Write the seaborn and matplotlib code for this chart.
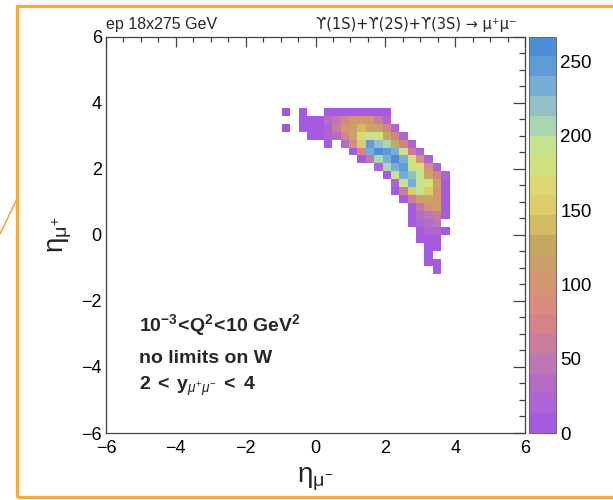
import numpy as np
import pandas as pd
import matplotlib
matplotlib.use("Agg")
import matplotlib.pyplot as plt
import seaborn as sns
from matplotlib.colors import ListedColormap
from matplotlib.ticker import MultipleLocator
from matplotlib.patches import Rectangle
from matplotlib.lines import Line2D

# ---------------- data ----------------
# bin centres of eta(mu-) (columns) and eta(mu+) (rows, top to bottom)
eta_minus_centres = [-0.84, -0.60, -0.36, -0.12, 0.12, 0.36, 0.60, 0.84, 1.08, 1.32,
                     1.56, 1.80, 2.04, 2.28, 2.52, 2.76, 3.00, 3.24, 3.48, 3.72]
eta_plus_centres = [3.72, 3.48, 3.24, 3.00, 2.76, 2.52, 2.28, 2.04, 1.80, 1.56, 1.32,
                    1.08, 0.84, 0.60, 0.36, 0.12, -0.12, -0.36, -0.60, -0.84, -1.08]
counts = [
    [6, 0, 6, 0, 0, 6, 6, 8, 10, 10, 10, 8, 6, 0, 0, 0, 0, 0, 0, 0],
    [0, 0, 6, 8, 10, 33, 50, 80, 95, 105, 100, 65, 20, 0, 0, 0, 0, 0, 0, 0],
    [6, 0, 6, 8, 10, 20, 60, 100, 120, 145, 130, 112, 70, 15, 0, 0, 0, 0, 0, 0],
    [0, 0, 0, 6, 10, 15, 35, 75, 128, 170, 200, 175, 130, 75, 15, 0, 0, 0, 0, 0],
    [0, 0, 0, 0, 0, 6, 0, 35, 85, 150, 250, 225, 205, 130, 75, 15, 0, 0, 0, 0],
    [0, 0, 0, 0, 0, 0, 0, 0, 8, 80, 235, 265, 250, 235, 175, 60, 15, 0, 0, 0],
    [0, 0, 0, 0, 0, 0, 0, 0, 0, 10, 45, 205, 236, 255, 240, 175, 95, 15, 0, 0],
    [0, 0, 0, 0, 0, 0, 0, 0, 0, 0, 0, 20, 205, 236, 250, 200, 175, 90, 15, 0],
    [0, 0, 0, 0, 0, 0, 0, 0, 0, 0, 0, 0, 12, 195, 236, 222, 195, 130, 75, 15],
    [0, 0, 0, 0, 0, 0, 0, 0, 0, 0, 0, 0, 0, 15, 190, 236, 200, 175, 115, 12],
    [0, 0, 0, 0, 0, 0, 0, 0, 0, 0, 0, 0, 0, 10, 60, 150, 190, 160, 105, 12],
    [0, 0, 0, 0, 0, 0, 0, 0, 0, 0, 0, 0, 0, 0, 8, 60, 115, 128, 100, 10],
    [0, 0, 0, 0, 0, 0, 0, 0, 0, 0, 0, 0, 0, 0, 0, 8, 45, 85, 110, 10],
    [0, 0, 0, 0, 0, 0, 0, 0, 0, 0, 0, 0, 0, 0, 0, 6, 30, 50, 65, 8],
    [0, 0, 0, 0, 0, 0, 0, 0, 0, 0, 0, 0, 0, 0, 0, 6, 15, 30, 45, 0],
    [0, 0, 0, 0, 0, 0, 0, 0, 0, 0, 0, 0, 0, 0, 0, 0, 6, 15, 20, 6],
    [0, 0, 0, 0, 0, 0, 0, 0, 0, 0, 0, 0, 0, 0, 0, 0, 6, 10, 8, 0],
    [0, 0, 0, 0, 0, 0, 0, 0, 0, 0, 0, 0, 0, 0, 0, 0, 0, 8, 6, 0],
    [0, 0, 0, 0, 0, 0, 0, 0, 0, 0, 0, 0, 0, 0, 0, 0, 0, 6, 0, 0],
    [0, 0, 0, 0, 0, 0, 0, 0, 0, 0, 0, 0, 0, 0, 0, 0, 0, 6, 6, 0],
    [0, 0, 0, 0, 0, 0, 0, 0, 0, 0, 0, 0, 0, 0, 0, 0, 0, 0, 6, 0],
]
z_max = 267
axis_ticks = [-6, -4, -2, 0, 2, 4, 6]
cbar_ticks = [0, 50, 100, 150, 200, 250]

# palette bands, bottom (0) to top (max)
palette = ["#a65ae0", "#ae64d4", "#b66cc6", "#bf76b4", "#ca7c9e", "#d48488",
           "#d88e7c", "#d49670", "#cc9e68", "#c4a860", "#d2bb62", "#dccc6a",
           "#dcd872", "#d3e07e", "#c5e28e", "#a9d5b2", "#92c0c8", "#78aed6",
           "#5e9cd8", "#4d8fd6"]

# ---------------- build table ----------------
rows = []
for i, yc in enumerate(eta_plus_centres):
    for j, xc in enumerate(eta_minus_centres):
        if counts[i][j] > 0:
            rows.append({"eta_minus": xc, "eta_plus": yc, "n": counts[i][j]})
df = pd.DataFrame(rows)

# ---------------- style ----------------
sns.set_style("white")
plt.rcParams["font.family"] = ["Liberation Sans", "DejaVu Sans"]
plt.rcParams["mathtext.fontset"] = "custom"
plt.rcParams["mathtext.rm"] = "Liberation Sans"
plt.rcParams["mathtext.it"] = "Liberation Sans:italic"
plt.rcParams["mathtext.bf"] = "Liberation Sans:bold"

W, H = 613, 500
fig = plt.figure(figsize=(W / 100, H / 100), dpi=100)
fig.patch.set_facecolor("white")
ax = fig.add_axes([106 / W, 67 / H, 419 / W, 396.5 / H])
cax = fig.add_axes([529 / W, 67 / H, 27 / W, 396.5 / H])

edges = np.linspace(-6, 6, 51)
cmap = ListedColormap(palette)
sns.histplot(data=df, x="eta_minus", y="eta_plus", weights="n",
             bins=(edges, edges), cmap=cmap, cbar=False, ax=ax)
mesh = ax.collections[-1]
mesh.set_cmap(cmap)
mesh.set_clim(0, z_max)

ax.set_xlim(-6, 6)
ax.set_ylim(-6, 6)
ax.set_xticks(axis_ticks)
ax.set_yticks(axis_ticks)
ax.xaxis.set_minor_locator(MultipleLocator(0.5))
ax.yaxis.set_minor_locator(MultipleLocator(0.5))
ax.tick_params(which="both", direction="in", top=True, right=True,
               colors="#444444", labelcolor="black", labelsize=13, width=0.9)
ax.tick_params(axis="x", which="major", length=7.5, pad=5)
ax.tick_params(axis="x", which="minor", length=3.8)
ax.tick_params(axis="y", which="major", length=8.5, pad=3)
ax.tick_params(axis="y", which="minor", length=4.3)
for s in ax.spines.values():
    s.set_color("#444444")
    s.set_linewidth(0.9)

ax.set_xlabel(r"$\mathrm{\eta_{\mu^{-}}}$", fontsize=20, labelpad=6)
ax.set_ylabel(r"$\mathrm{\eta_{\mu^{+}}}$", fontsize=20, labelpad=5)

# colour bar
cb = fig.colorbar(mesh, cax=cax, ticks=cbar_ticks)
cb.outline.set_edgecolor("#666666")
cb.outline.set_linewidth(0.7)
cax.yaxis.set_ticks_position("right")
cax.tick_params(direction="in", length=8.5, width=0.9, colors="#444444",
                labelcolor="black", labelsize=13.5, pad=3)
cax.minorticks_off()

# texts
ax.text(0.0, 1.0 + 7 / 396.5, "ep 18x275 GeV", transform=ax.transAxes,
        fontsize=11.5, ha="left", va="baseline")
ax.text(0.981, 1.0 + 7 / 396.5, "ϒ(1S)+ϒ(2S)+ϒ(3S) → μ⁺μ⁻", transform=ax.transAxes,
        fontsize=10.5, ha="right", va="baseline", family=["DejaVu Sans"])
ax.text(-5.05, -2.91, r"$\mathbf{10^{-3}\!<\!Q^{2}\!<\!10\ GeV^{2}}$",
        fontsize=14, ha="left", va="baseline")
ax.text(-5.05, -3.87, "no limits on W", fontsize=14, fontweight="bold",
        ha="left", va="baseline")
ax.text(-5.05, -4.70, r"$\mathbf{2\;<\;y}_{\mu^{+}\mu^{-}}\mathbf{\;<\;4}$",
        fontsize=14, ha="left", va="baseline")

# orange slide frame
orange = "#f6a93e"
fig.add_artist(Rectangle((16.5 / W, 3.5 / H), 1.2, (H - 9) / H, fill=False,
                         edgecolor=orange, linewidth=2.3,
                         transform=fig.transFigure))
fig.add_artist(Line2D([0, 16.5 / W], [(H - 234) / H, (H - 200) / H],
                      color=orange, linewidth=1.2, transform=fig.transFigure))

fig.savefig("out.png", dpi=100)
